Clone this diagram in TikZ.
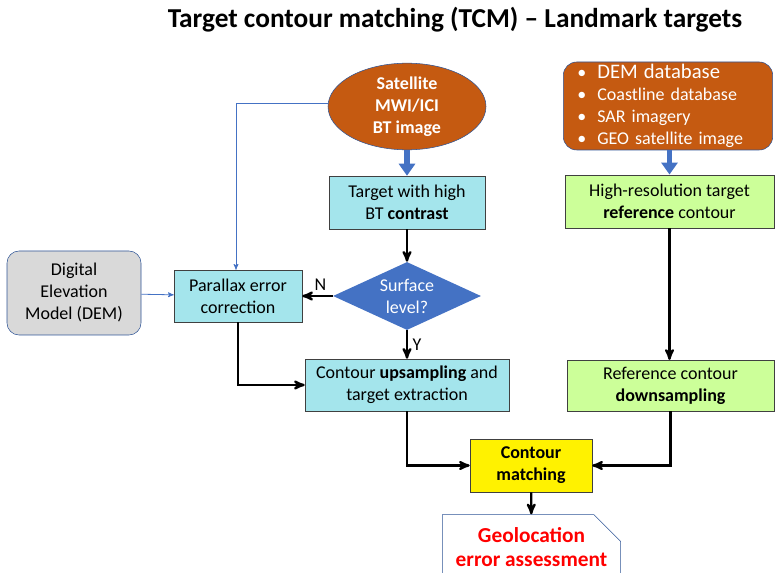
\documentclass[tikz,border=0pt]{standalone}
\usepackage{fontspec}
\setmainfont{Carlito}
\usetikzlibrary{arrows,arrows.meta}
\usetikzlibrary{shapes.geometric,shapes.misc}
\definecolor{rust}{RGB}{197,90,17}
\definecolor{ppblue}{RGB}{68,114,196}
\definecolor{edgeblue}{RGB}{47,85,151}
\definecolor{boxcyan}{RGB}{164,229,236}
\definecolor{boxgreen}{RGB}{204,255,153}
\definecolor{boxgray}{RGB}{217,217,217}
\newcommand{\bul}{\makebox[15pt][l]{\textbullet}}

\begin{document}
\begin{tikzpicture}[x=0.75pt,y=-0.75pt,
  txt/.style={font=\fontsize{13.5}{16.5}\selectfont,align=center},
  cyanbox/.style={txt,draw=black!75,fill=boxcyan,inner sep=0pt},
  greenbox/.style={txt,draw=black!75,fill=boxgreen,inner sep=0pt},
  flow/.style={->,>=stealth',line width=1.7pt},
  feed/.style={-{Triangle[width=12pt,length=9pt]},ppblue,line width=4pt},
  side/.style={->,>=stealth',ppblue,line width=0.6pt}]
\useasboundingbox (0,0) rectangle (775,573);
\clip (0,0) rectangle (775,573);
\node[font=\fontsize{20.5}{22}\selectfont\bfseries] (title) at (455,20) {Target contour matching (TCM) -- Landmark targets};
% left branch: MWI/ICI image
\node[ellipse,draw=edgeblue,fill=rust,text=white,txt,font=\fontsize{13.5}{16.5}\selectfont\bfseries,minimum width=118.5pt,minimum height=65pt,inner sep=0pt] (sat) at (407,106.5) {Satellite\\MWI/ICI\\BT image};
\node[cyanbox,minimum width=117pt,minimum height=39.75pt] (contrast) at (407,202.5) {Target with high\\BT \textbf{contrast}};
\node[diamond,fill=ppblue,text=white,txt,minimum width=111pt,minimum height=51pt,inner sep=0pt,aspect=2.2] (surf) at (407,296) {Surface\\level?};
\node[cyanbox,minimum width=96pt,minimum height=39pt] (par) at (238,296) {Parallax error\\correction};
\node[cyanbox,minimum width=153pt,minimum height=39pt] (up) at (407,385) {Contour \textbf{upsampling} and\\target extraction};
\node[rounded corners=9pt,draw=edgeblue,fill=boxgray,txt,minimum width=100.5pt,minimum height=63pt,inner sep=0pt] (dem) at (74,293) {Digital\\Elevation\\Model (DEM)};
% right branch: reference data
\node[rounded corners=10pt,draw=edgeblue,fill=rust,text=white,align=left,font=\fontsize{13.5}{16.5}\selectfont,minimum width=157pt,minimum height=66pt,text width=136pt,inner sep=0pt] (refs) at (668,106) {\bul{\fontsize{15.5}{16.5}\selectfont DEM database}\\\bul Coastline database\\\bul SAR imagery\\\bul GEO satellite image};
\node[greenbox,minimum width=157pt,minimum height=40pt] (hires) at (669.5,201.5) {High-resolution target\\\textbf{reference} contour};
\node[greenbox,minimum width=155pt,minimum height=38pt] (down) at (670.5,385.5) {Reference contour\\\textbf{downsampling}};
% matching and result
\node[txt,draw=black!75,fill=yellow,font=\fontsize{13.5}{16.5}\selectfont\bfseries,minimum width=91.5pt,minimum height=40pt,inner sep=0pt] (match) at (531,465.5) {Contour\\matching};
\node[chamfered rectangle,chamfered rectangle corners=north east,chamfered rectangle xsep=10pt,chamfered rectangle ysep=10pt,draw=edgeblue,fill=white,text=red,align=center,font=\fontsize{16}{18}\selectfont\bfseries,minimum width=133pt,minimum height=46pt,inner sep=0pt] (geo) at (531.5,547.5) {Geolocation\\error assessment};

\draw[feed] (sat) -- (contrast);
\draw[flow] (contrast) -- (surf);
\draw[flow] (surf) -- node[pos=0.4,above,font=\fontsize{13.5}{16}\selectfont] {N} (par);
\draw[flow] (surf) -- node[pos=0.5,right,font=\fontsize{13.5}{16}\selectfont] {Y} (up);
\draw[flow] (par.south) |- (up.west);
\draw[side] (dem) -- (par);
\draw[side] ([yshift=2pt]sat.west) -| ([xshift=-1.5pt]par.north);
\draw[feed] (refs.south -| hires.north) -- (hires.north);
\draw[flow] (hires.south) -- (hires.south |- down.north);
\draw[flow] (up.south) |- (match.west);
\draw[flow] (down.south) |- (match.east);
\draw[flow] (match) -- (geo);
\end{tikzpicture}
\end{document}
